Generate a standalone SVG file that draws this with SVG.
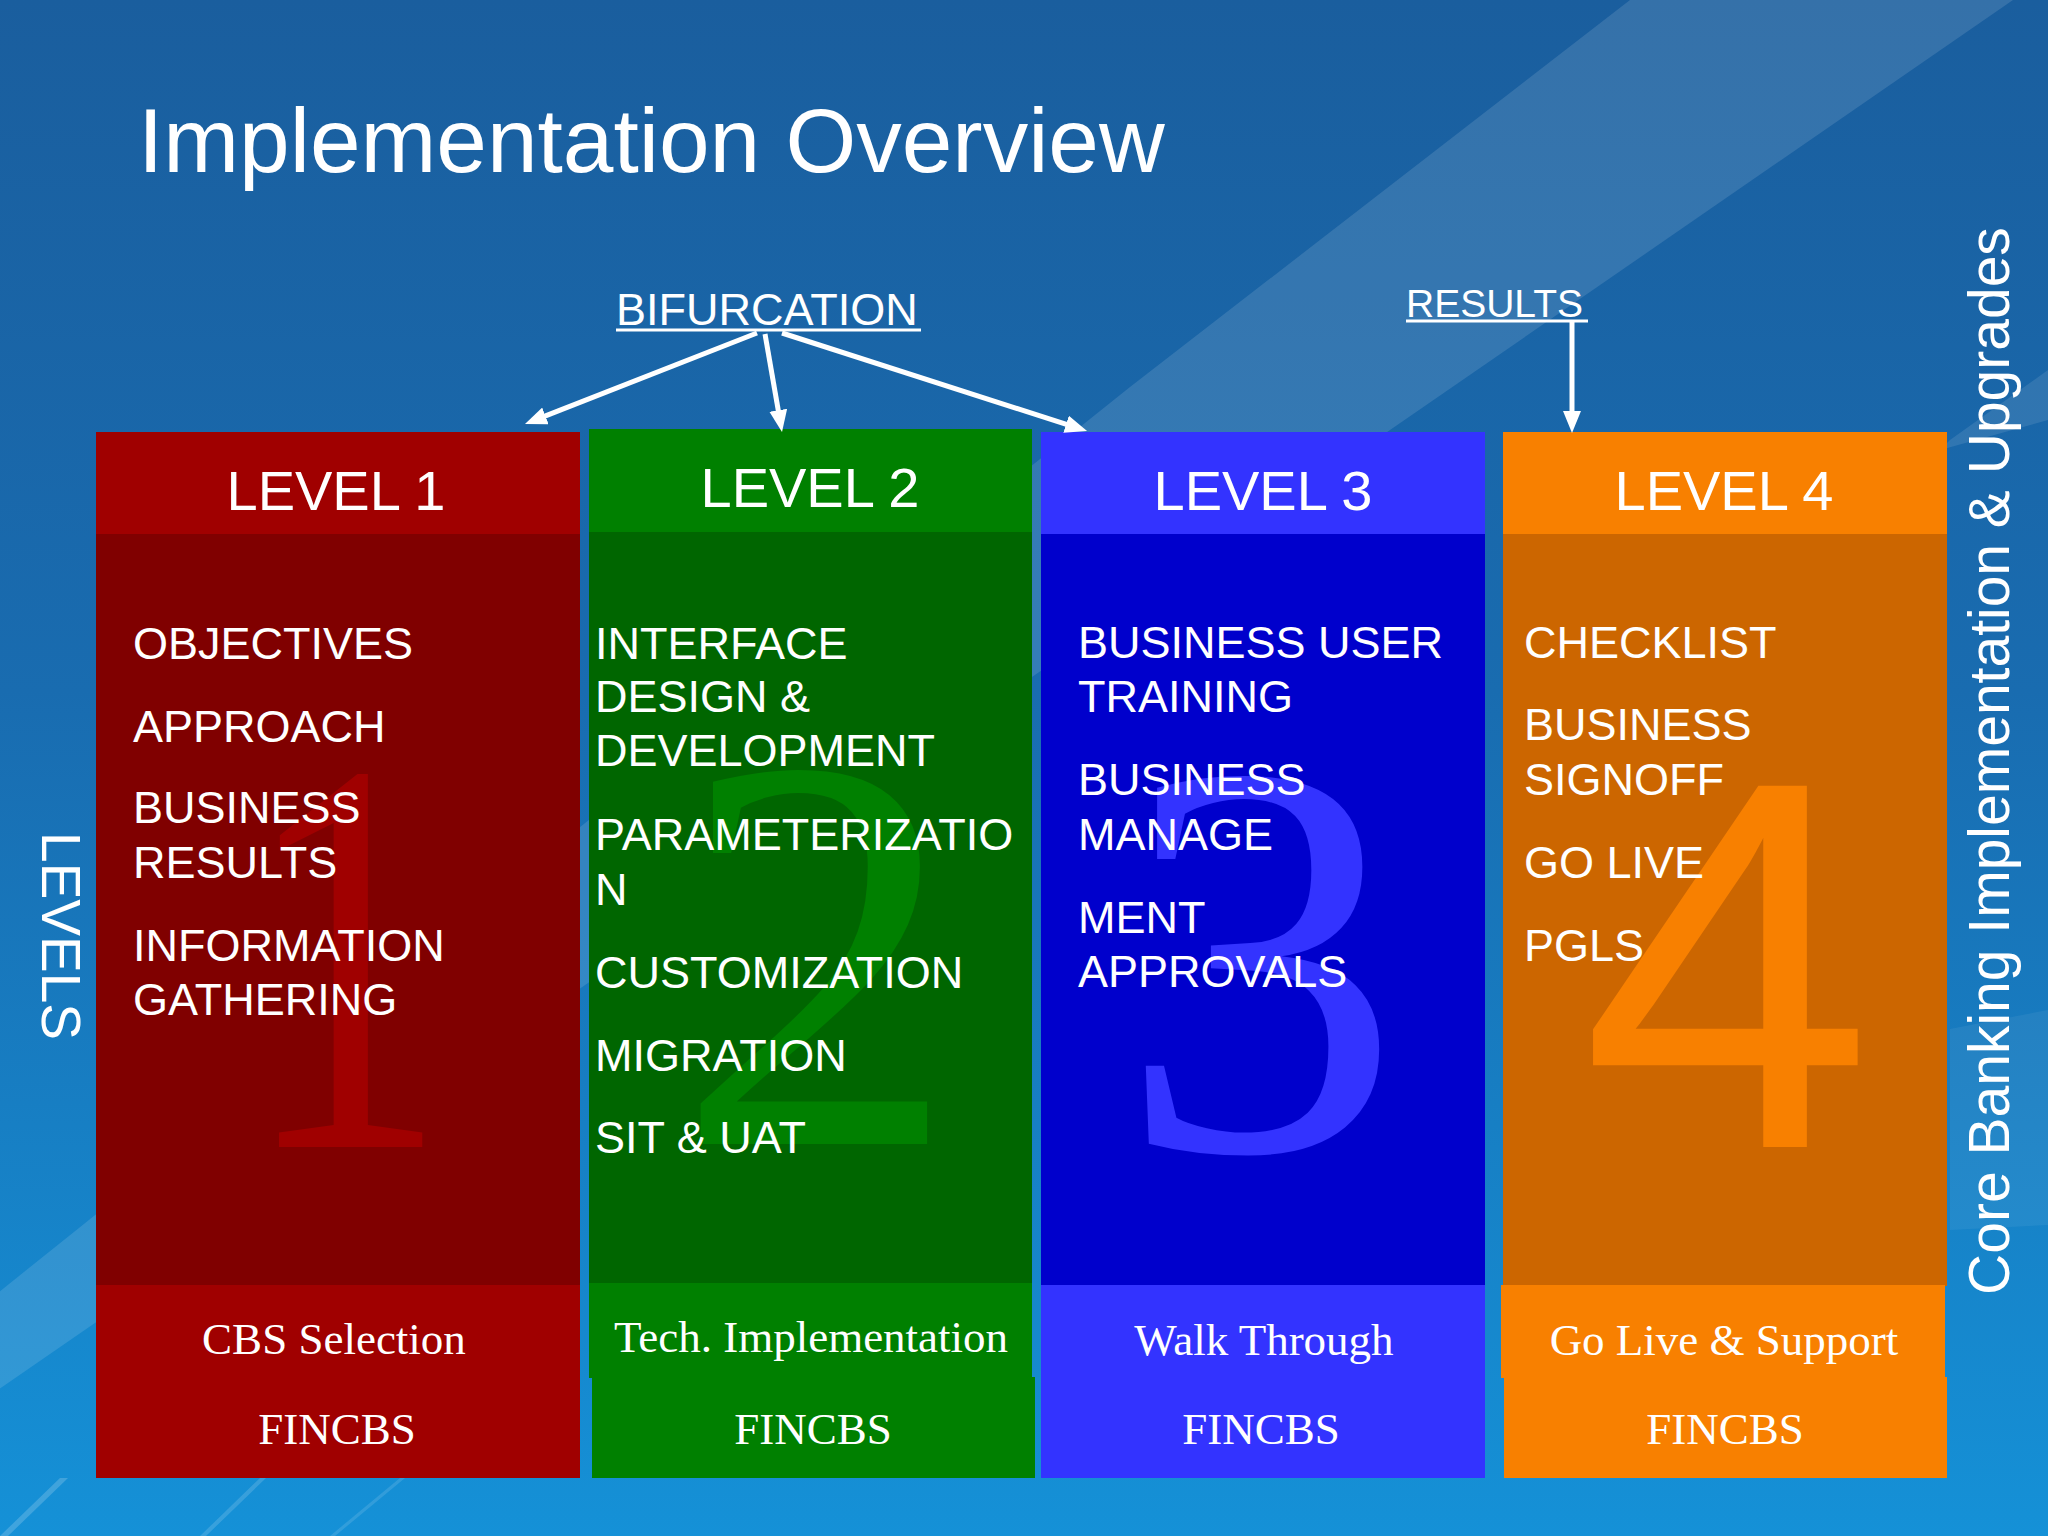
<svg xmlns="http://www.w3.org/2000/svg" width="2048" height="1536" viewBox="0 0 2048 1536">
<defs>
<linearGradient id="bg" x1="0" y1="0" x2="0" y2="1">
<stop offset="0" stop-color="#1a5e9e"/>
<stop offset="0.45" stop-color="#196cb0"/>
<stop offset="1" stop-color="#1591d7"/>
</linearGradient>
<marker id="ah" markerUnits="userSpaceOnUse" markerWidth="22" markerHeight="18" viewBox="0 0 22 18" refX="2" refY="9" orient="auto">
<path d="M0,0 L22,9 L0,18 z" fill="#fff"/>
</marker>
<style>
.sans{font-family:"Liberation Sans",Arial,sans-serif;fill:#fff}
.serif{font-family:"Liberation Serif","Times New Roman",serif;fill:#fff}
.hd{font-size:56px;text-anchor:middle}
.body{font-size:45px}
.ft{font-size:45px;text-anchor:middle}
.num{font-size:565px;text-anchor:middle}
.conn{stroke:#fff;stroke-width:5;fill:none;marker-end:url(#ah)}
</style>
</defs>
<rect width="2048" height="1536" fill="url(#bg)"/>
<g id="background-swooshes">
<polygon points="1630,0 2013,0 1390,430 -214,1536 -306,1536 1130,387" fill="#ffffff" opacity="0.12"/>
<polygon points="2048,370 2048,420 1940,450 1950,440" fill="#ffffff" opacity="0.1"/>
<polygon points="1950,1029 2048,1010 2048,1225 1950,1230" fill="#ffffff" opacity="0.06"/>
<polygon points="0,1536 60,1478 68,1478 8,1536" fill="#ffffff" opacity="0.18"/>
<polygon points="200,1536 260,1478 266,1478 206,1536" fill="#ffffff" opacity="0.15"/>
<polygon points="330,1536 400,1478 405,1478 335,1536" fill="#ffffff" opacity="0.12"/>
</g>
<text class="sans" x="138" y="172" font-size="91">Implementation Overview</text>
<text class="sans" font-size="55" text-anchor="middle" transform="translate(42,936) rotate(90)">LEVELS</text>
<text class="sans" font-size="57" text-anchor="middle" transform="translate(2009,761) rotate(-90)">Core Banking Implementation &amp; Upgrades</text>
<g id="bifurcation">
<text class="sans" x="616" y="325" font-size="45">BIFURCATION</text>
<line x1="616" y1="330" x2="921" y2="330" stroke="#fff" stroke-width="3"/>
</g>
<g id="results">
<text class="sans" x="1406" y="317" font-size="39">RESULTS</text>
<line x1="1406" y1="321" x2="1588" y2="321" stroke="#fff" stroke-width="3"/>
</g>
<g id="level1">
<rect x="96" y="432" width="484" height="103" fill="#a00000"/>
<rect x="96" y="534" width="484" height="752" fill="#800000"/>
<rect x="96" y="1285" width="484" height="193" fill="#a00000"/>
<text class="serif num" transform="translate(345,1147) scale(0.72,1)" style="fill:#a00000">1</text>
<text class="sans hd" x="336" y="510">LEVEL 1</text>
<text class="sans body" x="133" y="659">OBJECTIVES</text>
<text class="sans body" x="133" y="742">APPROACH</text>
<text class="sans body" x="133" y="823">BUSINESS</text>
<text class="sans body" x="133" y="878">RESULTS</text>
<text class="sans body" x="133" y="961">INFORMATION</text>
<text class="sans body" x="133" y="1015">GATHERING</text>
<text class="serif ft" x="334" y="1354">CBS Selection</text>
<text class="serif ft" x="337" y="1444">FINCBS</text>
</g>
<g id="level2">
<rect x="589" y="429" width="443" height="104" fill="#008000"/>
<rect x="589" y="532" width="443" height="752" fill="#006600"/>
<rect x="589" y="1283" width="443" height="95" fill="#008000"/>
<rect x="592" y="1377" width="443" height="101" fill="#008000"/>
<text class="serif num" x="817" y="1144" style="fill:#008000">2</text>
<text class="sans hd" x="810" y="507">LEVEL 2</text>
<text class="sans body" x="595" y="659">INTERFACE</text>
<text class="sans body" x="595" y="712">DESIGN &amp;</text>
<text class="sans body" x="595" y="766">DEVELOPMENT</text>
<text class="sans body" x="595" y="850">PARAMETERIZATIO</text>
<text class="sans body" x="595" y="905">N</text>
<text class="sans body" x="595" y="988">CUSTOMIZATION</text>
<text class="sans body" x="595" y="1071">MIGRATION</text>
<text class="sans body" x="595" y="1153">SIT &amp; UAT</text>
<text class="serif ft" x="811" y="1352">Tech. Implementation</text>
<text class="serif ft" x="813" y="1444">FINCBS</text>
</g>
<g id="level3">
<rect x="1041" y="432" width="444" height="103" fill="#3333ff"/>
<rect x="1041" y="534" width="444" height="752" fill="#0000cc"/>
<rect x="1041" y="1285" width="444" height="193" fill="#3333ff"/>
<text class="serif num" x="1260" y="1150" font-size="555" style="fill:#3333ff">3</text>
<text class="sans hd" x="1263" y="510">LEVEL 3</text>
<text class="sans body" x="1078" y="658">BUSINESS USER</text>
<text class="sans body" x="1078" y="712">TRAINING</text>
<text class="sans body" x="1078" y="795">BUSINESS</text>
<text class="sans body" x="1078" y="850">MANAGE</text>
<text class="sans body" x="1078" y="933">MENT</text>
<text class="sans body" x="1078" y="987">APPROVALS</text>
<text class="serif ft" x="1264" y="1355">Walk Through</text>
<text class="serif ft" x="1261" y="1444">FINCBS</text>
</g>
<g id="level4">
<rect x="1503" y="432" width="444" height="103" fill="#f88000"/>
<rect x="1503" y="534" width="444" height="752" fill="#cc6600"/>
<rect x="1501" y="1285" width="444" height="93" fill="#f88000"/>
<rect x="1504" y="1377" width="443" height="101" fill="#f88000"/>
<text class="sans" x="1727" y="1147" font-size="525" text-anchor="middle" style="fill:#f88000">4</text>
<text class="sans hd" x="1724" y="510">LEVEL 4</text>
<text class="sans body" x="1524" y="658">CHECKLIST</text>
<text class="sans body" x="1524" y="740">BUSINESS</text>
<text class="sans body" x="1524" y="795">SIGNOFF</text>
<text class="sans body" x="1524" y="878">GO LIVE</text>
<text class="sans body" x="1524" y="961">PGLS</text>
<text class="serif ft" x="1724" y="1355">Go Live &amp; Support</text>
<text class="serif ft" x="1725" y="1444">FINCBS</text>
</g>
<g id="connectors">
<line class="conn" x1="757" y1="333" x2="543.6" y2="416.7"/>
<line class="conn" x1="765" y1="334" x2="778.6" y2="412.3"/>
<line class="conn" x1="782" y1="333" x2="1068" y2="424.9"/>
<line class="conn" x1="1572" y1="320" x2="1572" y2="413"/>
</g>
</svg>
